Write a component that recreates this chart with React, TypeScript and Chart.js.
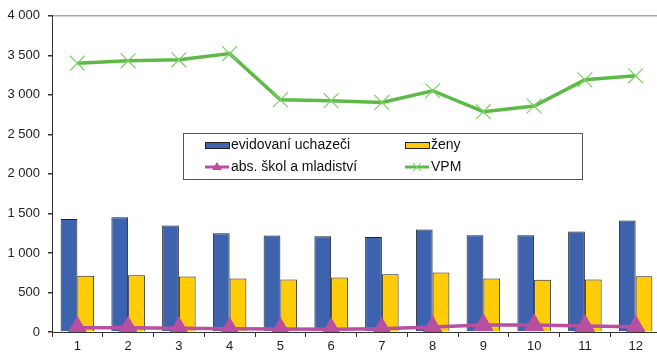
import React, { useEffect, useRef } from "react";
import { Chart, registerables } from "chart.js";

Chart.register(...registerables);

const categories = ["1", "2", "3", "4", "5", "6", "7", "8", "9", "10", "11", "12"];
const evidovani = [1430, 1451, 1346, 1249, 1220, 1211, 1203, 1296, 1224, 1224, 1270, 1409];
const zeny = [710, 719, 702, 677, 664, 690, 731, 753, 677, 660, 664, 706];
const absolventi = [55, 55, 48, 42, 38, 35, 42, 63, 88, 88, 76, 67];
const vpm = [3401, 3430, 3443, 3522, 2938, 2926, 2904, 3052, 2787, 2859, 3190, 3241];
const yTicks = [0, 500, 1000, 1500, 2000, 2500, 3000, 3500, 4000];

const BLUE = "#3D63AE";
const YELLOW = "#FFCC07";
const PINK = "#B84FA0";
const GREEN = "#5EBA47";
const GREEN_MARK = "#7CCF66";
const FONT = "'Liberation Sans', Arial, sans-serif";

const fmt = (v: number) => {
  const s = String(Math.round(v));
  return s.replace(/\B(?=(\d{3})+(?!\d))/g, " ");
};

const legendPlugin = {
  id: "boxLegend",
  afterDatasetsDraw(chart: any) {
    const ctx = chart.ctx;
    const x0 = 183, y0 = 133, w = 399, h = 46;
    ctx.save();
    ctx.fillStyle = "#fff";
    ctx.fillRect(x0, y0, w, h);
    ctx.strokeStyle = "#555";
    ctx.lineWidth = 1;
    ctx.strokeRect(x0 + 0.5, y0 + 0.5, w, h);
    ctx.font = `14px ${FONT}`;
    ctx.textBaseline = "middle";
    ctx.fillStyle = "#111";
    const items = [
      { x: 205, y: 145, kind: "bar", color: BLUE, label: chart.data.datasets[0].label },
      { x: 405, y: 145, kind: "bar", color: YELLOW, label: chart.data.datasets[1].label },
      { x: 205, y: 167, kind: "tri", color: PINK, label: chart.data.datasets[2].label },
      { x: 405, y: 167, kind: "cross", color: GREEN, label: chart.data.datasets[3].label },
    ];
    for (const it of items) {
      if (it.kind === "bar") {
        ctx.fillStyle = it.color;
        ctx.fillRect(it.x, it.y - 3, 24, 6);
        ctx.strokeStyle = "#222";
        ctx.strokeRect(it.x + 0.5, it.y - 3 + 0.5, 24, 6);
      } else {
        ctx.strokeStyle = it.color;
        ctx.lineWidth = 3;
        ctx.beginPath();
        ctx.moveTo(it.x, it.y);
        ctx.lineTo(it.x + 24, it.y);
        ctx.stroke();
        ctx.lineWidth = 1;
        if (it.kind === "tri") {
          ctx.fillStyle = it.color;
          ctx.beginPath();
          ctx.moveTo(it.x + 12, it.y - 5);
          ctx.lineTo(it.x + 17, it.y + 3);
          ctx.lineTo(it.x + 7, it.y + 3);
          ctx.closePath();
          ctx.fill();
        } else {
          ctx.strokeStyle = GREEN_MARK;
          ctx.beginPath();
          ctx.moveTo(it.x + 8, it.y - 4);
          ctx.lineTo(it.x + 16, it.y + 4);
          ctx.moveTo(it.x + 16, it.y - 4);
          ctx.lineTo(it.x + 8, it.y + 4);
          ctx.stroke();
        }
      }
      ctx.fillStyle = "#111";
      ctx.fillText(it.label, it.x + 26, it.y);
    }
    ctx.restore();
  },
};

export default function App() {
  const ref = useRef<HTMLCanvasElement | null>(null);
  useEffect(() => {
    document.body.style.margin = "0";
    if (!ref.current) return;
    const chart = new Chart(ref.current, {
      type: "bar",
      data: {
        labels: categories,
        datasets: [
          {
            type: "bar",
            label: "evidovaní uchazeči",
            data: evidovani,
            backgroundColor: BLUE,
            borderColor: "#222",
            borderWidth: 1,
            order: 2,
          },
          {
            type: "bar",
            label: "ženy",
            data: zeny,
            backgroundColor: YELLOW,
            borderColor: "#222",
            borderWidth: 1,
            order: 2,
          },
          {
            type: "line",
            label: "abs. škol a mladiství",
            data: absolventi,
            borderColor: PINK,
            backgroundColor: PINK,
            borderWidth: 3.5,
            pointStyle: "triangle",
            pointRadius: 8.5,
            pointBackgroundColor: PINK,
            pointBorderColor: PINK,
            tension: 0,
            order: 1,
          },
          {
            type: "line",
            label: "VPM",
            data: vpm,
            borderColor: GREEN,
            backgroundColor: GREEN,
            borderWidth: 3.5,
            pointStyle: "crossRot",
            pointRadius: 10.5,
            pointBorderColor: GREEN_MARK,
            pointBorderWidth: 1.2,
            tension: 0,
            order: 0,
          },
        ] as any,
      },
      options: {
        responsive: false,
        animation: false,
        devicePixelRatio: 1,
        layout: { autoPadding: false, padding: { top: 15, left: 0, right: 0, bottom: 0 } },
        plugins: { legend: { display: false }, tooltip: { enabled: false } },
        datasets: { bar: { categoryPercentage: 0.66, barPercentage: 1.0 } } as any,
        scales: {
          x: {
            afterFit: (s: any) => {
              s.height = 20;
              s.paddingLeft = 0;
              s.paddingRight = 0;
            },
            grid: {
              offset: true,
              drawOnChartArea: false,
              tickLength: 5,
              tickColor: "#333",
            },
            border: { color: "#333", width: 1 },
            ticks: { color: "#222", font: { family: FONT, size: 13 }, padding: 2, maxRotation: 0 },
          },
          y: {
            min: 0,
            max: 4000,
            afterFit: (s: any) => { s.width = 52; },
            afterBuildTicks: (s: any) => { s.ticks = yTicks.map((v) => ({ value: v })); },
            grid: {
              color: (c: any) => (c.tick && c.tick.value === 4000 ? "#A8A8A8" : "rgba(0,0,0,0)"),
              lineWidth: 1.5,
              tickLength: 4,
              tickColor: "#333",
            },
            border: { color: "#333", width: 1 },
            ticks: {
              color: "#222",
              font: { family: FONT, size: 13 },
              padding: 8,
              callback: (v: any) => fmt(Number(v)),
            },
          },
        },
      },
      plugins: [legendPlugin],
    });
    return () => chart.destroy();
  }, []);
  return (
    <div style={{ position: "fixed", left: 0, top: 0, width: 657, height: 352, overflow: "hidden", background: "#fff" }}>
      <canvas ref={ref} width={661} height={352} />
    </div>
  );
}
